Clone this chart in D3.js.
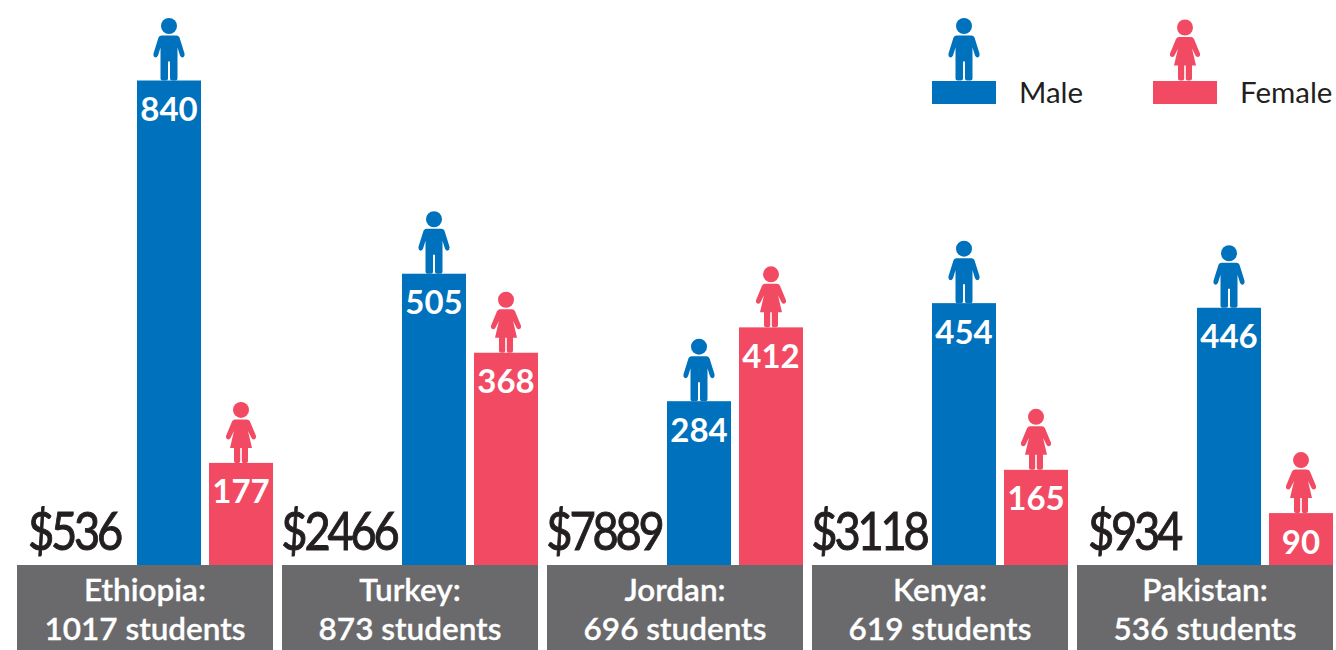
<!DOCTYPE html>
<html>
<head>
<meta charset="utf-8">
<script src="https://cdn.jsdelivr.net/npm/d3@7"></script>
<style>
  body { margin: 0; background: #fff; overflow: hidden; }
  text { font-family: Lato, sans-serif; }
</style>
</head>
<body>
<div id="wrapper"></div>
<script>
// data
const countries = ["Ethiopia", "Turkey", "Jordan", "Kenya", "Pakistan"]
const students = [1017, 873, 696, 619, 536]
const incomes = ["$536", "$2466", "$7889", "$3118", "$934"]
const maleCounts = [840, 505, 284, 454, 446]
const femaleCounts = [177, 368, 412, 165, 90]
const genders = ["Male", "Female"]

const colors = { Male: "#0071bc", Female: "#f24a63" }
const dark = "#231f20"
const labelGrey = "#6a6a6c"

// dimensions
const width = 1336
const height = 650
const baseline = 565

const svg = d3.select("#wrapper").append("svg")
    .attr("width", width)
    .attr("height", height)
    .style("display", "block")

// scales
const xGroup = d3.scaleBand()
  .domain(countries)
  .range([17, 1333])
  .paddingInner(9 / 265)

const xGender = d3.scaleBand()
  .domain(genders)
  .range([120, 256])
  .paddingInner(8 / 72)

const yScale = d3.scaleLinear()
  .domain([0, 840])
  .range([baseline, 80.5])

// pictograms, origin is between the feet
const malePath = "M-7.5,-45 L7.5,-45 Q9.5,-45 10.5,-43 L15.5,-27 Q16,-23.5 13.5,-23 Q12,-23 11,-25 L8.5,-33 L8.5,-2 Q8.5,0 6.5,0 L3,0 Q1,0 1,-2 L1,-19 L-1,-19 L-1,-2 Q-1,0 -3,0 L-6.5,0 Q-8.5,0 -8.5,-2 L-8.5,-33 L-11,-25 Q-12,-23 -13.5,-23 Q-16,-23.5 -15.5,-27 L-10.5,-43 Q-9.5,-45 -7.5,-45 Z"
const femalePath = "M-6,-43.5 L6,-43.5 Q8,-43.5 9,-41.5 L15,-27 Q15.5,-24 13,-23.5 Q11.5,-23.5 10.5,-25 L7,-32 L11,-15 L7,-15 L7,-2 Q7,0 5,0 L2.5,0 Q0.8,0 0.8,-2 L0.8,-15 L-0.8,-15 L-0.8,-2 Q-0.8,0 -2.5,0 L-5,0 Q-7,0 -7,-2 L-7,-15 L-11,-15 L-7,-32 L-10.5,-25 Q-11.5,-23.5 -13,-23.5 Q-15.5,-24 -15,-27 L-9,-41.5 Q-8,-43.5 -6,-43.5 Z"

function drawPerson(parent, gender, x, y) {
  const person = parent.append("g")
      .attr("transform", `translate(${x},${y})`)
      .attr("fill", colors[gender])
  person.append("circle")
      .attr("cy", gender === "Male" ? -54.5 : -53)
      .attr("r", 8)
  person.append("path")
      .attr("d", gender === "Male" ? malePath : femalePath)
}

// draw data
const groups = svg.selectAll(".country")
  .data(countries)
  .join("g")
    .attr("class", "country")
    .attr("transform", d => `translate(${xGroup(d)},0)`)

groups.each(function(country, i) {
  const group = d3.select(this)
  const values = { Male: maleCounts[i], Female: femaleCounts[i] }

  genders.forEach(gender => {
    const value = values[gender]
    const barX = xGender(gender)
    const top = yScale(value)

    group.append("rect")
        .attr("x", barX)
        .attr("y", top)
        .attr("width", xGender.bandwidth())
        .attr("height", baseline - top)
        .attr("fill", colors[gender])

    group.append("text")
        .attr("x", barX + xGender.bandwidth() / 2)
        .attr("y", top + 40.5)
        .attr("text-anchor", "middle")
        .attr("fill", "#fff")
        .attr("font-size", 33)
        .attr("font-weight", 700)
        .text(value)

    drawPerson(group, gender, barX + xGender.bandwidth() / 2, top)
  })

  // income figures are squeezed horizontally in the original
  group.append("text")
      .attr("transform", "translate(57,550) scale(0.87,1)")
      .attr("text-anchor", "middle")
      .attr("fill", dark)
      .attr("stroke", dark)
      .attr("stroke-width", 1)
      .attr("font-size", 52)
      .style("letter-spacing", "-0.07em")
      .text(incomes[i])

  group.append("rect")
      .attr("y", baseline)
      .attr("width", xGroup.bandwidth())
      .attr("height", height - baseline)
      .attr("fill", labelGrey)

  group.append("text")
      .attr("x", xGroup.bandwidth() / 2)
      .attr("y", 601)
      .attr("text-anchor", "middle")
      .attr("fill", "#fff")
      .attr("stroke", "#fff")
      .attr("stroke-width", 0.3)
      .attr("font-size", 31.5)
      .attr("font-weight", 600)
      .text(`${country}:`)

  group.append("text")
      .attr("x", xGroup.bandwidth() / 2)
      .attr("y", 639.5)
      .attr("text-anchor", "middle")
      .attr("fill", "#fff")
      .attr("stroke", "#fff")
      .attr("stroke-width", 0.3)
      .attr("font-size", 31.5)
      .attr("font-weight", 600)
      .text(`${students[i]} students`)
})

// legend
const legendX = d3.scaleOrdinal().domain(genders).range([932, 1153])

genders.forEach(gender => {
  const x = legendX(gender)
  svg.append("rect")
      .attr("x", x)
      .attr("y", 81)
      .attr("width", xGender.bandwidth())
      .attr("height", 23)
      .attr("fill", colors[gender])
  drawPerson(svg, gender, x + xGender.bandwidth() / 2, 80.5)
  svg.append("text")
      .attr("x", x + 87)
      .attr("y", 103)
      .attr("fill", dark)
      .attr("font-size", 29.5)
      .text(gender)
})
</script>
</body>
</html>
